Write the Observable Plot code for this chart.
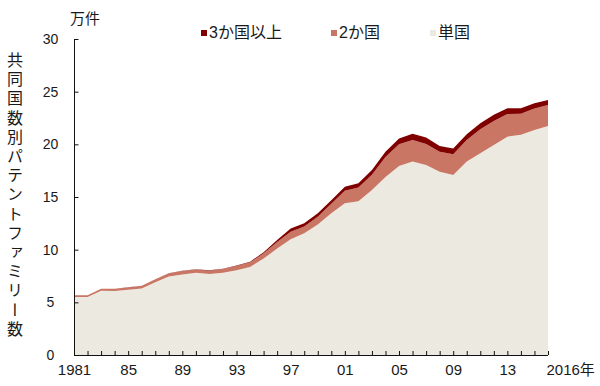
<!DOCTYPE html>
<html><head><meta charset="utf-8">
<script src="https://cdn.jsdelivr.net/npm/d3@7"></script>
<script src="https://cdn.jsdelivr.net/npm/@observablehq/plot@0.6"></script>
<style>
body{margin:0;background:#fff;}
#wrap{position:relative;width:600px;height:386px;font-family:"Liberation Sans","Noto Sans CJK JP",sans-serif;color:#1a1a1a;overflow:hidden;}
#wrap svg{position:absolute;left:0;top:0;}
.lbl{position:absolute;white-space:nowrap;line-height:1;}
.sw{display:inline-block;width:6px;height:6px;margin-right:2px;vertical-align:middle;position:relative;top:-1px;}
</style></head><body><div id="wrap"></div>
<script>
const years = [1981,1982,1983,1984,1985,1986,1987,1988,1989,1990,1991,1992,1993,1994,1995,1996,1997,1998,1999,2000,2001,2002,2003,2004,2005,2006,2007,2008,2009,2010,2011,2012,2013,2014,2015,2016];
const single = [5.5,5.5,6.1,6.08,6.2,6.32,6.9,7.45,7.65,7.8,7.7,7.8,8.05,8.35,9.15,10.1,11.0,11.55,12.4,13.45,14.4,14.6,15.67,16.9,17.95,18.36,18.04,17.4,17.1,18.36,19.15,19.94,20.73,20.9,21.37,21.75];
const two = [0.17,0.18,0.19,0.21,0.22,0.25,0.28,0.29,0.32,0.31,0.31,0.36,0.4,0.45,0.5,0.62,0.7,0.65,0.72,0.9,1.2,1.3,1.45,1.9,2.05,2.04,2.0,1.9,1.95,2.04,2.28,2.28,2.15,2.0,2.03,1.99];
const three = [0,0,0.01,0.01,0.01,0.01,0.02,0.02,0.03,0.03,0.03,0.04,0.05,0.06,0.1,0.2,0.3,0.3,0.33,0.35,0.38,0.4,0.45,0.5,0.55,0.6,0.6,0.55,0.55,0.55,0.57,0.58,0.55,0.53,0.5,0.46];
const seriesNames = ["単国","2か国","3か国以上"];
const seriesColors = ["#ece9e1","#c97664","#800000"];
const legendOrder = ["3か国以上","2か国","単国"];
const yTicks = [0,5,10,15,20,25,30];
const xTickYears = [1981,1985,1989,1993,1997,2001,2005,2009,2013];
const xTickLabels = ["1981","85","89","93","97","01","05","09","13"];
const lastYearLabel = "2016年";
const unitLabel = "万件";
const yTitle = "共同国数別パテントファミリー数";

const seriesValues = [single, two, three];
const rows = [];
years.forEach((yr, i) => {
  seriesNames.forEach((s, k) => rows.push({year: yr, series: s, value: seriesValues[k][i]}));
});

const x0 = years[0], x1 = years[years.length - 1];
const chart = Plot.plot({
  width: 600, height: 386,
  marginLeft: 74, marginRight: 52, marginTop: 39, marginBottom: 31,
  x: {domain: [x0, x1], axis: null},
  y: {domain: [yTicks[0], yTicks[yTicks.length - 1]], axis: null},
  color: {domain: seriesNames, range: seriesColors},
  style: {background: "transparent", fontFamily: "Liberation Sans, sans-serif", color: "#1a1a1a"},
  marks: [
    Plot.areaY(rows, {x: "year", y: "value", fill: "series"}),
    Plot.ruleX([x0], {y1: yTicks[0], y2: yTicks[yTicks.length - 1], stroke: "#111"}),
    Plot.ruleY([0], {x1: x0, x2: x1, stroke: "#111"}),
    Plot.ruleY(yTicks, {y: d => d, x1: x0, x2: x0, insetRight: -4.5, stroke: "#111"}),
    Plot.ruleX(years, {x: d => d, y1: 0, y2: 0, insetTop: -4, stroke: "#111"}),
    Plot.text(yTicks, {y: d => d, frameAnchor: "left", dx: -24, textAnchor: "middle", text: d => String(d), fontSize: 14, fill: "#1a1a1a"}),
    Plot.text(xTickYears, {x: d => d, frameAnchor: "bottom", dy: 19, text: (d, i) => xTickLabels[i], fontSize: 15, fill: "#1a1a1a"}),
    Plot.text([x1], {x: d => d, frameAnchor: "bottom", dy: 19, dx: -2, textAnchor: "start", text: () => lastYearLabel, fontSize: 15, fontFamily: "Liberation Sans, Noto Sans CJK JP", fill: "#1a1a1a"})
  ]
});
const wrap = document.getElementById("wrap");
wrap.appendChild(chart);

function addLabel(text, css) {
  const d = document.createElement("div");
  d.className = "lbl";
  d.textContent = text;
  Object.assign(d.style, css);
  wrap.appendChild(d);
  return d;
}
addLabel(unitLabel, {left: "70px", top: "10px", fontSize: "15px", fontFamily: "Noto Sans CJK JP"});
addLabel(yTitle, {left: "7px", top: "52px", fontSize: "16px", fontFamily: "Noto Sans CJK JP", writingMode: "vertical-rl", letterSpacing: "3.2px"});

const legendX = [201, 331, 430];
legendOrder.forEach((name, i) => {
  const d = document.createElement("div");
  d.className = "lbl";
  Object.assign(d.style, {left: legendX[i] + "px", top: "24px", fontSize: "16px", lineHeight: "18px"});
  const sw = document.createElement("span");
  sw.className = "sw";
  sw.style.background = seriesColors[seriesNames.indexOf(name)];
  d.appendChild(sw);
  d.appendChild(document.createTextNode(name));
  wrap.appendChild(d);
});
</script></body></html>
